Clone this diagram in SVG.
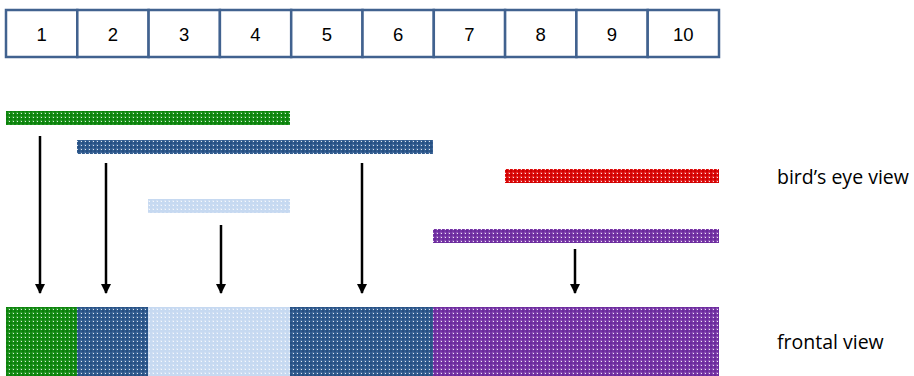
<svg xmlns="http://www.w3.org/2000/svg" width="914" height="376" viewBox="0 0 914 376">
<style>
.cell{fill:#fff;stroke:#41628f;stroke-width:2.5}
.num{font-family:"Liberation Sans",Arial,sans-serif;font-size:18.5px;fill:#000;text-anchor:middle}
.lbl{font-family:"Open Sans","Liberation Sans",sans-serif;font-size:19.5px;fill:#000}
.arr{stroke:#000;stroke-width:2.5;fill:none;marker-end:url(#ah)}
</style>
<defs>
<marker id="ah" viewBox="0 0 10 10" refX="9" refY="5" markerWidth="4" markerHeight="4" orient="auto" markerUnits="strokeWidth">
<path d="M0,0 L10,5 L0,10 z" fill="#000"/>
</marker>
<pattern id="pg" width="4" height="4" patternUnits="userSpaceOnUse"><rect width="4" height="4" fill="#138a13"/><rect width="2" height="2" fill="#2d9a2d"/><rect x="2" y="2" width="2" height="2" fill="#0a800a"/><rect x="1" y="1" width="1" height="1" fill="#d8f0d8"/></pattern>
<pattern id="pb" width="4" height="4" patternUnits="userSpaceOnUse"><rect width="4" height="4" fill="#2f5b8e"/><rect width="2" height="2" fill="#44699a"/><rect x="2" y="2" width="2" height="2" fill="#274f82"/><rect x="1" y="1" width="1" height="1" fill="#dde6f0"/></pattern>
<pattern id="pl" width="4" height="4" patternUnits="userSpaceOnUse"><rect width="4" height="4" fill="#c6d9f1"/><rect width="2" height="2" fill="#d2e0f3"/><rect x="1" y="1" width="1" height="1" fill="#f4f8fd"/></pattern>
<pattern id="pr" width="4" height="4" patternUnits="userSpaceOnUse"><rect width="4" height="4" fill="#dc0a0a"/><rect width="2" height="2" fill="#e43030"/><rect x="2" y="2" width="2" height="2" fill="#cc0000"/><rect x="1" y="1" width="1" height="1" fill="#fbe0e0"/></pattern>
<pattern id="pp" width="4" height="4" patternUnits="userSpaceOnUse"><rect width="4" height="4" fill="#7434a4"/><rect width="2" height="2" fill="#8a50b4"/><rect x="2" y="2" width="2" height="2" fill="#6a2a9c"/><rect x="1" y="1" width="1" height="1" fill="#efe4f6"/></pattern>
</defs>
<g id="scale">
<rect class="cell" x="6" y="10" width="71.3" height="47"/>
<rect class="cell" x="77.3" y="10" width="71.3" height="47"/>
<rect class="cell" x="148.6" y="10" width="71.3" height="47"/>
<rect class="cell" x="219.9" y="10" width="71.3" height="47"/>
<rect class="cell" x="291.2" y="10" width="71.3" height="47"/>
<rect class="cell" x="362.5" y="10" width="71.3" height="47"/>
<rect class="cell" x="433.8" y="10" width="71.3" height="47"/>
<rect class="cell" x="505.1" y="10" width="71.3" height="47"/>
<rect class="cell" x="576.4" y="10" width="71.3" height="47"/>
<rect class="cell" x="647.7" y="10" width="71.3" height="47"/>
<text class="num" x="41.6" y="41">1</text>
<text class="num" x="112.9" y="41">2</text>
<text class="num" x="184.2" y="41">3</text>
<text class="num" x="255.5" y="41">4</text>
<text class="num" x="326.8" y="41">5</text>
<text class="num" x="398.1" y="41">6</text>
<text class="num" x="469.4" y="41">7</text>
<text class="num" x="540.7" y="41">8</text>
<text class="num" x="612" y="41">9</text>
<text class="num" x="683.3" y="41">10</text>
</g>
<g id="bar-green"><rect x="6" y="111" width="284" height="14" fill="url(#pg)"/></g>
<g id="bar-blue"><rect x="77" y="140" width="356" height="14" fill="url(#pb)"/></g>
<g id="bar-lightblue"><rect x="148" y="199" width="142" height="14" fill="url(#pl)"/></g>
<g id="bar-red"><rect x="505" y="169" width="214" height="14" fill="url(#pr)"/></g>
<g id="bar-purple"><rect x="433" y="229" width="286" height="14" fill="url(#pp)"/></g>
<g id="frontal">
<rect x="6" y="307" width="71" height="69" fill="url(#pg)"/>
<rect x="77" y="307" width="71" height="69" fill="url(#pb)"/>
<rect x="148" y="307" width="142" height="69" fill="url(#pl)"/>
<rect x="290" y="307" width="143" height="69" fill="url(#pb)"/>
<rect x="433" y="307" width="286" height="69" fill="url(#pp)"/>
</g>
<g id="connectors">
<line class="arr" x1="40" y1="136" x2="40" y2="293"/>
<line class="arr" x1="106" y1="163" x2="106" y2="293"/>
<line class="arr" x1="221" y1="225" x2="221" y2="293"/>
<line class="arr" x1="362" y1="163" x2="362" y2="293"/>
<line class="arr" x1="575" y1="249" x2="575" y2="293"/>
</g>
<g id="labels">
<text class="lbl" x="777" y="184">bird’s eye view</text>
<text class="lbl" x="777" y="349">frontal view</text>
</g>
</svg>
